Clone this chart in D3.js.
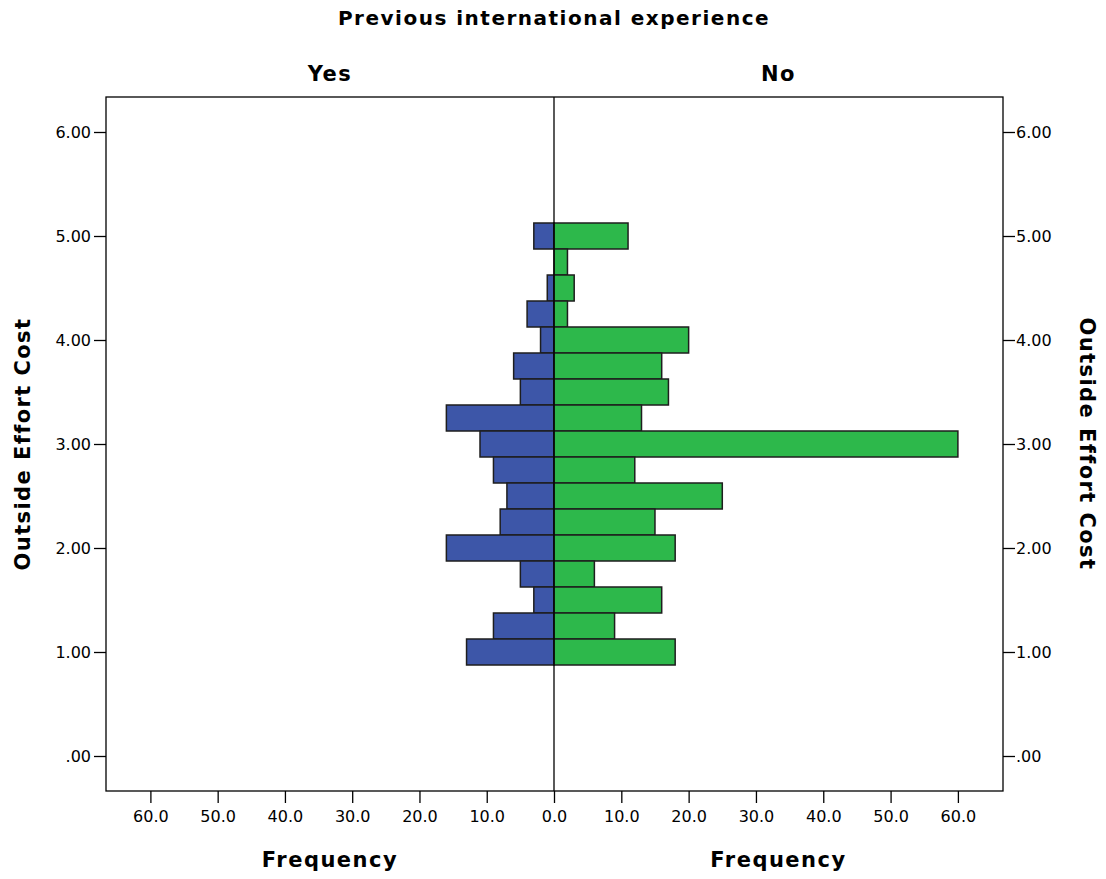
<!DOCTYPE html>
<meta charset="utf-8">
<script src="https://d3js.org/d3.v7.min.js"></script>
<style>
  body { margin: 0; background: #fff; }
  text { font-family: "DejaVu Sans", sans-serif; fill: #000; }
  .ttl { font-weight: bold; }
</style>
<body>
<div id="chart"></div>
<script>
// bin centres (Outside Effort Cost) and frequencies for each group
var bins = [5.00, 4.75, 4.50, 4.25, 4.00, 3.75, 3.50, 3.25, 3.00, 2.75, 2.50, 2.25, 2.00, 1.75, 1.50, 1.25, 1.00];
var yesFreq = [3, 0, 1, 4, 2, 6, 5, 16, 11, 9, 7, 8, 16, 5, 3, 9, 13];
var noFreq  = [11, 2, 3, 2, 20, 16, 17, 13, 60, 12, 25, 15, 18, 6, 16, 9, 18];
var yTicks = [0, 1, 2, 3, 4, 5, 6];
var xTicks = [0, 10, 20, 30, 40, 50, 60];
var binWidth = 0.25;

var W = 1106, H = 879;
var pLeft = 106, pRight = 1003, pTop = 97, pBottom = 791, mid = 554;

var svg = d3.select("#chart").append("svg")
    .attr("width", W).attr("height", H);

var y = d3.scaleLinear().domain([0, 6]).range([756, 132]);
var xL = d3.scaleLinear().domain([0, 66.6]).range([mid, pLeft]);
var xR = d3.scaleLinear().domain([0, 66.7]).range([mid, pRight]);

var data = bins.map(function(b, i) { return {b: b, yes: yesFreq[i], no: noFreq[i]}; });

// frame
svg.append("rect")
  .attr("x", pLeft).attr("y", pTop)
  .attr("width", pRight - pLeft).attr("height", pBottom - pTop)
  .attr("fill", "none").attr("stroke", "#000").attr("stroke-width", 1.3);

// bars
svg.append("g").selectAll("rect")
  .data(data.filter(function(d) { return d.yes > 0; }))
  .join("rect")
    .attr("x", function(d) { return xL(d.yes); })
    .attr("y", function(d) { return y(d.b + binWidth / 2); })
    .attr("width", function(d) { return mid - xL(d.yes); })
    .attr("height", function(d) { return y(d.b - binWidth / 2) - y(d.b + binWidth / 2); })
    .attr("fill", "#3d56a8")
    .attr("stroke", "#1e1e1e").attr("stroke-width", 1.5);

svg.append("g").selectAll("rect")
  .data(data.filter(function(d) { return d.no > 0; }))
  .join("rect")
    .attr("x", mid)
    .attr("y", function(d) { return y(d.b + binWidth / 2); })
    .attr("width", function(d) { return xR(d.no) - mid; })
    .attr("height", function(d) { return y(d.b - binWidth / 2) - y(d.b + binWidth / 2); })
    .attr("fill", "#2db84b")
    .attr("stroke", "#1e1e1e").attr("stroke-width", 1.5);

// centre line
svg.append("line")
  .attr("x1", mid).attr("x2", mid).attr("y1", pTop).attr("y2", pBottom)
  .attr("stroke", "#000").attr("stroke-width", 1.3);

// axes
function styleAxis(g) {
  g.select(".domain").remove();
  g.selectAll(".tick line").attr("stroke", "#000").attr("stroke-width", 1.3);
  g.selectAll(".tick text").style("font-size", "16px").attr("fill", "#222");
}
var yFmt = function(d) { return d === 0 ? ".00" : d3.format(".2f")(d); };

svg.append("g")
  .attr("transform", "translate(" + pLeft + ",0)")
  .call(d3.axisLeft(y).tickValues(yTicks).tickSize(12).tickPadding(3).tickFormat(yFmt))
  .call(styleAxis);

svg.append("g")
  .attr("transform", "translate(" + pRight + ",0)")
  .call(d3.axisRight(y).tickValues(yTicks).tickSize(12).tickPadding(1).tickFormat(yFmt))
  .call(styleAxis);

svg.append("g")
  .attr("transform", "translate(0," + pBottom + ")")
  .call(d3.axisBottom(xL).tickValues(xTicks).tickSize(12).tickPadding(8).tickFormat(d3.format(".1f")))
  .call(styleAxis);

svg.append("g")
  .attr("transform", "translate(0," + pBottom + ")")
  .call(d3.axisBottom(xR).tickValues(xTicks.slice(1)).tickSize(12).tickPadding(8).tickFormat(d3.format(".1f")))
  .call(styleAxis);

// titles
svg.append("text").attr("class", "ttl")
  .attr("x", mid).attr("y", 25).attr("text-anchor", "middle")
  .style("font-size", "20px").style("letter-spacing", "1.5px")
  .text("Previous international experience");

svg.append("text").attr("class", "ttl")
  .attr("x", (pLeft + mid) / 2).attr("y", 81).attr("text-anchor", "middle")
  .style("font-size", "21px").style("letter-spacing", "1.5px")
  .text("Yes");

svg.append("text").attr("class", "ttl")
  .attr("x", (mid + pRight) / 2).attr("y", 81).attr("text-anchor", "middle")
  .style("font-size", "21px").style("letter-spacing", "1.5px")
  .text("No");

[(pLeft + mid) / 2, (mid + pRight) / 2].forEach(function(cx) {
  svg.append("text").attr("class", "ttl")
    .attr("x", cx).attr("y", 867).attr("text-anchor", "middle")
    .style("font-size", "21px").style("letter-spacing", "1.5px")
    .text("Frequency");
});

svg.append("text").attr("class", "ttl")
  .attr("transform", "translate(30," + ((pTop + pBottom) / 2) + ") rotate(-90)")
  .attr("text-anchor", "middle")
  .style("font-size", "21px").style("letter-spacing", "1.4px")
  .text("Outside Effort Cost");

svg.append("text").attr("class", "ttl")
  .attr("transform", "translate(1080," + ((pTop + pBottom) / 2) + ") rotate(90)")
  .attr("text-anchor", "middle")
  .style("font-size", "21px").style("letter-spacing", "1.4px")
  .text("Outside Effort Cost");
</script>
</body>
